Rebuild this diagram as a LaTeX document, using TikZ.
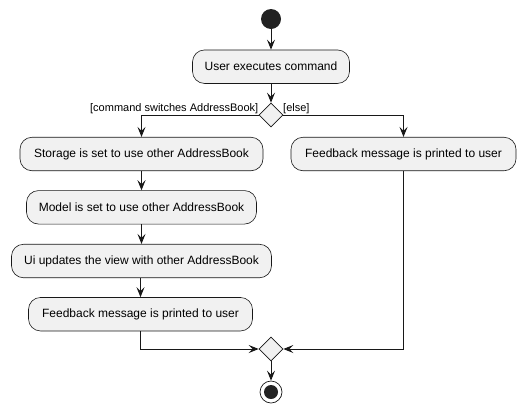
\documentclass[tikz,border=0pt]{standalone}
\usepackage{fontspec}
\setmainfont{Liberation Sans}
\usetikzlibrary{arrows.meta,shapes.geometric}
\definecolor{boxfill}{HTML}{F1F1F1}
\definecolor{boxline}{HTML}{181818}
\definecolor{dot}{HTML}{222222}
\begin{document}
\begin{tikzpicture}[x=1pt,y=-1pt,
  act/.style={draw=boxline,fill=boxfill,rounded corners=12pt,minimum height=33.5pt,inner sep=0pt,font=\fontsize{12}{14}\selectfont,line width=0.6pt},
  gate/.style={draw=boxline,fill=boxfill,diamond,minimum width=24pt,minimum height=24pt,inner sep=0pt,line width=0.6pt},
  flow/.style={draw=boxline,line width=0.9pt,-{Stealth[length=10pt,width=8pt,inset=4pt]}},
  lbl/.style={font=\fontsize{11}{13}\selectfont,inner sep=0pt}
]
\useasboundingbox (0,0) rectangle (526,413);
\node[circle,fill=dot,minimum size=20pt,inner sep=0pt] (start) at (271,19) {};
\node[act,minimum width=157pt] (user) at (271,66.7) {User executes command};
\node[gate] (dec) at (271,115) {};
\node[act,minimum width=243pt] (stor) at (141.5,154) {Storage is set to use other AddressBook};
\node[act,minimum width=230pt] (model) at (141.5,207.3) {Model is set to use other AddressBook};
\node[act,minimum width=260pt] (ui) at (141.5,261) {Ui updates the view with other AddressBook};
\node[act,minimum width=224pt] (fb) at (140.5,314.2) {Feedback message is printed to user};
\node[act,minimum width=225pt] (fbr) at (403.5,154) {Feedback message is printed to user};
\node[gate] (merge) at (271,349) {};
\node[circle,draw=boxline,fill=white,line width=0.7pt,minimum size=22pt,inner sep=0pt] (stop) at (271,392) {};
\node[circle,fill=dot,minimum size=14pt,inner sep=0pt] at (stop) {};
\draw[flow] (start) -- (user);
\draw[flow] (user) -- (dec);
\draw[flow] (dec.west) -| (stor.north);
\draw[flow] (dec.east) -| (fbr.north);
\draw[flow] (stor) -- (model);
\draw[flow] (model) -- (ui);
\draw[flow] (ui.south -| fb.north) -- (fb.north);
\draw[flow] (fb.south) |- (merge.west);
\draw[flow] (fbr.south) |- (merge.east);
\draw[flow] (merge) -- (stop);
\node[lbl,anchor=south east] (l1) at (258.5,113.5) {[command switches AddressBook]};
\node[lbl,anchor=south west] (l2) at (283,113.5) {[else]};
\end{tikzpicture}
\end{document}
